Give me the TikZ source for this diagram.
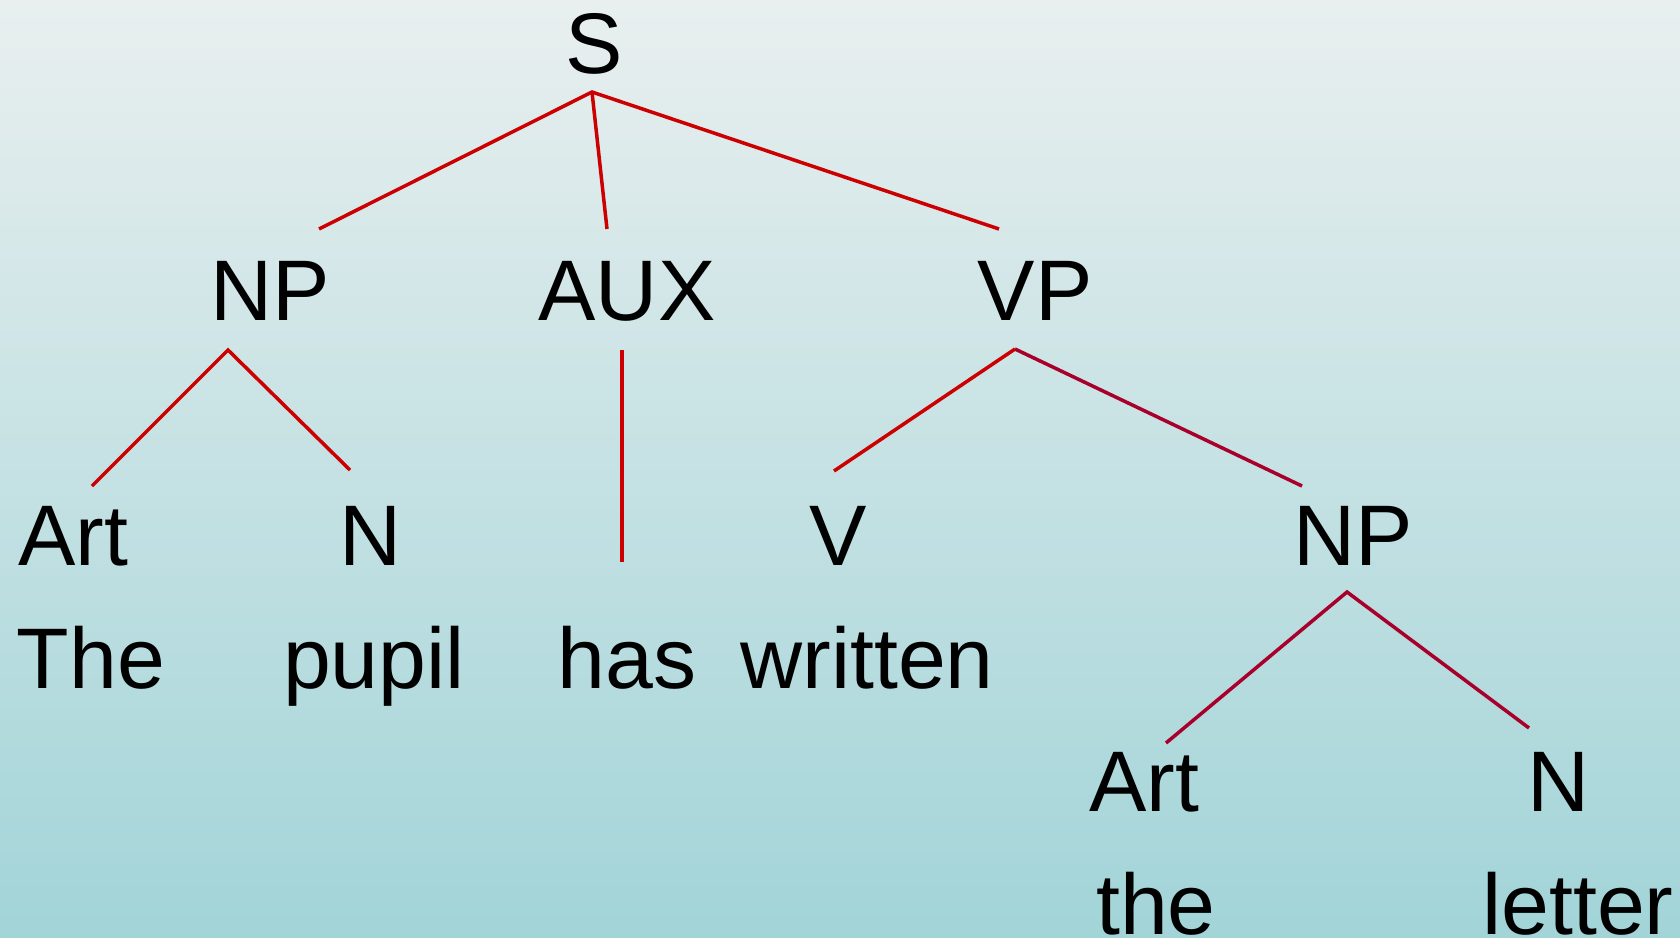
\documentclass[tikz,border=0pt]{standalone}
\usepackage{fontspec}
\setmainfont{Liberation Sans}
\definecolor{branchred}{RGB}{204,0,0}
\definecolor{branchdark}{RGB}{168,0,42}
\definecolor{bgtop}{RGB}{233,239,239}
\definecolor{bgbottom}{RGB}{162,212,216}

\begin{document}
\begin{tikzpicture}[x=1pt,y=-1pt,
  cat/.style={anchor=base,inner sep=0pt,font=\fontsize{86}{100}\selectfont},
  branch/.style={branchred,line width=3.5pt},
  lowbranch/.style={branchdark,line width=3.5pt}]
\useasboundingbox (0,0) rectangle (1680,937);
\shade[top color=bgtop,bottom color=bgbottom] (0,0) rectangle (1680,937);

% categories
\node[cat] (S)    at (594,73)   {S};
\node[cat] (NPa)  at (270,320)  {NP};
\node[cat] (AUX)  at (627,320)  {AUX};
\node[cat] (VP)   at (1035,320) {VP};
\node[cat] (Arta) at (73,565)   {Art};
\node[cat] (Na)   at (371,565)  {N};
\node[cat] (V)    at (838,565)  {V};
\node[cat] (NPb)  at (1353,565) {NP};
\node[cat] (Artb) at (1144,811) {Art};
\node[cat] (Nb)   at (1559,811) {N};

% words
\node[cat] (the1)    at (91,688)   {The};
\node[cat] (pupil)   at (374,688)  {pupil};
\node[cat] (has)     at (627,688)  {has};
\node[cat] (written) at (867,688)  {written};
\node[cat] (the2)    at (1156,934) {the};
\node[cat] (letter)  at (1578,934) {letter};

% branches
\draw[branch] ([shift={(49,-91)}]NPa.base) -- ([shift={(-2,19)}]S.base)
  -- ([shift={(-36,-91)}]VP.base);
\draw[branch] ([shift={(-2,19)}]S.base) -- ([shift={(-20,-91)}]AUX.base);
\draw[branch] ([shift={(19,-79)}]Arta.base) -- ([shift={(-42,30)}]NPa.base)
  -- ([shift={(-21,-95)}]Na.base);
\draw[branch] ([shift={(-5,30)}]AUX.base) -- ([shift={(-5,-126)}]has.base);
\draw[branch] ([shift={(-4,-94)}]V.base) -- ([shift={(-20,29)}]VP.base);
\draw[lowbranch] ([shift={(-20,29)}]VP.base) -- ([shift={(-51,-79)}]NPb.base);
\draw[lowbranch] ([shift={(22,-68)}]Artb.base) -- ([shift={(-6,27)}]NPb.base)
  -- ([shift={(-30,-83)}]Nb.base);

\end{tikzpicture}
\end{document}
